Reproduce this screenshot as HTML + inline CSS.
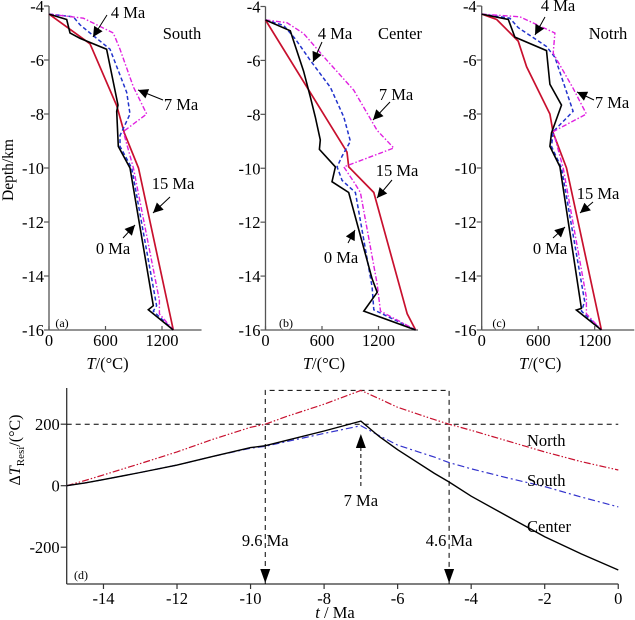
<!DOCTYPE html>
<html><head><meta charset="utf-8"><style>
html,body{margin:0;padding:0;background:#fff;}
svg, svg text{font-family:"Liberation Serif","Times New Roman",serif;}
svg{display:block;}
</style></head><body>
<svg id="c" width="635" height="620" viewBox="0 0 635 620" font-family="Liberation Serif, serif" xmlns="http://www.w3.org/2000/svg"></svg>
<script>
// ---- data: panel profiles [T (°C), depth (km)] ----
const panelNames = ["South","Center","Notrh"];
const panelTags = ["(a)","(b)","(c)"];
const tempTicks = [0,600,1200];
const depthTicks = [-4,-6,-8,-10,-12,-14,-16];
const profA15 = [[0,-4.3],[435,-5.4],[720,-7.7],[800,-8.7],[950,-10],[1320,-16]];
const profA0 = [[0,-4.3],[188,-4.5],[223,-5.0],[330,-5.2],[612,-5.6],[733,-7.67],[719,-7.9],[736,-9.2],[860,-10],[1108,-15.1],[1055,-15.25],[1320,-16]];
const profA4 = [[0,-4.3],[258,-4.4],[330,-4.7],[648,-5.6],[825,-7.2],[860,-8.0],[754,-8.8],[754,-9.2],[878,-10],[1143,-15.1],[1108,-15.3],[1320,-16]];
const profA7 = [[0,-4.3],[365,-4.45],[683,-5.0],[754,-5.6],[896,-7.0],[1037,-8.0],[789,-8.65],[896,-10],[1172,-14.9],[1172,-15.4],[1320,-16]];
const profB15 = [[0,-4.5],[830,-9.2],[866,-9.4],[884,-9.95],[1150,-10.9],[1505,-15.4],[1594,-16]];
const profB0 = [[0,-4.5],[263,-4.9],[291,-5.2],[405,-6.4],[476,-7.35],[529,-8.1],[582,-8.95],[572,-9.3],[742,-9.95],[706,-10.5],[884,-10.9],[1132,-14.1],[1186,-14.6],[1044,-15.3],[1594,-16]];
const profB4 = [[0,-4.5],[192,-4.7],[316,-5.2],[476,-6.0],[689,-7.0],[831,-8.1],[902,-9.0],[813,-9.55],[760,-9.95],[813,-10.45],[955,-10.9],[1132,-14.4],[1150,-15.25],[1594,-16]];
const profB7 = [[0,-4.5],[227,-4.6],[405,-5.0],[653,-6.0],[937,-7.1],[1186,-8.6],[1363,-9.25],[831,-9.95],[937,-10.5],[1008,-10.9],[1186,-14.3],[1203,-14.8],[1221,-15.3],[1594,-16]];
const profC15 = [[0,-4.3],[159,-4.5],[388,-5.3],[477,-6.25],[724,-8.0],[759,-8.7],[900,-10],[1271,-16]];
const profC0 = [[0,-4.3],[282,-4.5],[353,-5.15],[688,-5.65],[724,-6.9],[847,-7.67],[741,-8.7],[724,-9.2],[830,-9.95],[1059,-15.2],[1006,-15.26],[1271,-16]];
const profC4 = [[0,-4.3],[300,-4.45],[388,-4.8],[688,-5.5],[777,-5.9],[971,-7.9],[759,-8.65],[741,-9.2],[847,-10],[1094,-14.95],[1059,-15.3],[1271,-16]];
const profC7 = [[0,-4.3],[406,-4.4],[653,-4.8],[777,-5.0],[759,-5.75],[971,-7.05],[1112,-8.0],[759,-8.65],[865,-10],[1112,-14.8],[1112,-15.4],[1271,-16]];
// ---- data: panel (d) ----
const timeTicks = [-14,-12,-10,-8,-6,-4,-2,0];
const dTTicks = [-200,0,200];
const times = [-15,-14.5,-14,-13,-12,-11,-10,-9.6,-9,-8,-7,-6.5,-6,-5,-4.6,-4,-3,-2,-1,0];
const northVals = [0,17,35,72,110,152,190,200,226,265,310,283,255,215,200,180,145,110,78,51];
const centerVals = [0,9,20,43,67,96,124,130,148,178,210,160,117,40,12,-34,-100,-166,-222,-274];
const southVals = [0,9,20,43,67,96,122,128,144,170,195,163,132,93,75,55,25,-3,-37,-69];
const markTimes = [-9.6,-7,-4.6];

const svg=document.getElementById('c');
const NS="http://www.w3.org/2000/svg";
const FF="Liberation Serif, Times New Roman, serif";
function mk(tag,attrs,parent){const e=document.createElementNS(NS,tag);for(const k in attrs)e.setAttribute(k,attrs[k]);(parent||svg).appendChild(e);return e;}
function txt(x,y,s,size,anchor,parent){const t=mk('text',{x:x,y:y,'font-size':size,'text-anchor':anchor||'middle',fill:'#000','font-family':FF},parent);t.textContent=s;return t;}

const defs=mk('defs',{});
const mkr2=mk('marker',{id:'ah2',viewBox:'0 0 10 10',refX:10,refY:5,markerWidth:12,markerHeight:10,orient:'auto',markerUnits:'userSpaceOnUse'},defs);
mk('path',{d:'M0,0 L10,5 L0,10 z',fill:'#000'},mkr2);

const FS=16.5;
const styles={
 r:{stroke:'#c8102e','stroke-width':1.7,fill:'none'},
 k:{stroke:'#000','stroke-width':1.6,fill:'none'},
 b:{stroke:'#2233cc','stroke-width':1.5,fill:'none','stroke-dasharray':'4,2.5'},
 m:{stroke:'#e020e0','stroke-width':1.4,fill:'none','stroke-dasharray':'5,2,1.5,2'}
};
const panels=[
 {x0:49,top:6,bot:330,prof:[profA15,profA0,profA4,profA7],
  ann:[["4 Ma",128,18,107,15,93,37],["7 Ma",181,110,163,100,138,90],["15 Ma",173,189,170,197,153,213],["0 Ma",113,254,123,238,135,225]],name:[182,39],tag:[62,327]},
 {x0:265.5,top:6.5,bot:330,prof:[profB15,profB0,profB4,profB7],
  ann:[["4 Ma",335,39,322,42,313,62],["7 Ma",396,100,390,102,373,120],["15 Ma",397,176,392,180,377,198],["0 Ma",341,263,348,243,355,230]],name:[400,39],tag:[286,327]},
 {x0:481.7,top:6,bot:330,prof:[profC15,profC0,profC4,profC7],
  ann:[["4 Ma",558,11,545,17,535,35],["7 Ma",612,108,594,100,577,92],["15 Ma",598,199,593,202,580,213],["0 Ma",550,254,553,238,565,227]],name:[608,39],tag:[499,327]}
];
const tScale=56.5/600;
panels.forEach((p,i)=>{
 const g=mk('g',{});
 
 
 const X=t=>p.x0+t*tScale;
 const Y=d=>p.top+(-4-d)/12*(p.bot-p.top);
 const xr=X(1620);
 mk('line',{x1:p.x0,y1:Y(-4),x2:p.x0,y2:Y(-16),stroke:'#555','stroke-width':1.3},g);
 mk('line',{x1:p.x0,y1:Y(-16),x2:xr,y2:Y(-16),stroke:'#555','stroke-width':1.3},g);
 depthTicks.forEach(d=>{mk('line',{x1:p.x0-5,y1:Y(d),x2:p.x0,y2:Y(d),stroke:'#555','stroke-width':1.2},g);
  const t=txt(p.x0-5,Y(d)+6,String(d),FS,'end',g);});
 tempTicks.forEach(v=>{mk('line',{x1:X(v),y1:Y(-16),x2:X(v),y2:Y(-16)-4,stroke:'#555','stroke-width':1.2},g);
  const t=txt(X(v),346,String(v),FS,'middle',g);});
 const xt=mk('text',{x:X(600)+2,y:369,'font-size':FS,'text-anchor':'middle','font-family':FF},g);
 
 xt.innerHTML='<tspan font-style="italic">T</tspan>/(°C)';
 const order=['r','k','b','m'];
 const sname=['profile-15ma','profile-0ma','profile-4ma','profile-7ma'];
 [0,2,3,1].forEach(j=>{
  const pts=p.prof[j].map(q=>X(q[0]).toFixed(1)+','+Y(q[1]).toFixed(1)).join(' ');
  const pl=mk('polyline',Object.assign({points:pts},styles[order[j]]),g);
  
  
 });
 p.ann.forEach(a=>{
  const t=txt(a[1],a[2],a[0],FS,'middle',g);
  
  mk('line',{x1:a[3],y1:a[4],x2:a[5],y2:a[6],stroke:'#000','stroke-width':1,'marker-end':'url(#ah2)'},g);
 });
 const nm=txt(p.name[0],p.name[1],panelNames[i],FS,'middle',g);
 
 const tg=txt(p.tag[0],p.tag[1],panelTags[i],12,'middle',g);
 
});
const yt=mk('text',{x:0,y:0,'font-size':15.5,'text-anchor':'middle','font-family':FF,transform:'translate(13,170) rotate(-90)'});

yt.textContent='Depth/km';

// ---- panel d ----
const gd=mk('g',{});


const TX=t=>66.7+(t+15)*36.77;
const VY=v=>485.7-v*61.5/200;
mk('line',{x1:TX(-15),y1:388,x2:TX(-15),y2:584,stroke:'#333','stroke-width':1.3},gd);
mk('line',{x1:TX(-15),y1:584,x2:TX(0),y2:584,stroke:'#333','stroke-width':1.3},gd);
timeTicks.forEach(t=>{mk('line',{x1:TX(t),y1:584,x2:TX(t),y2:589,stroke:'#333','stroke-width':1.2},gd);
 const l=txt(TX(t),604,String(t),FS,'middle',gd);});
dTTicks.forEach(v=>{mk('line',{x1:TX(-15)-6,y1:VY(v),x2:TX(-15),y2:VY(v),stroke:'#333','stroke-width':1.2},gd);
 const l=txt(TX(-15)-7,VY(v)+6,String(v),FS,'end',gd);});
const h200=mk('line',{x1:TX(-15),y1:VY(200),x2:TX(0),y2:VY(200),stroke:'#000','stroke-width':1,'stroke-dasharray':'5,4'},gd);

const box=mk('polyline',{points:`${TX(markTimes[0])},584 ${TX(markTimes[0])},${VY(310)} ${TX(markTimes[2])},${VY(310)} ${TX(markTimes[2])},584`,fill:'none',stroke:'#000','stroke-width':1,'stroke-dasharray':'5,4'},gd);

function curve(vals,st,name){
 const pts=times.map((t,i)=>TX(t).toFixed(1)+','+VY(vals[i]).toFixed(1)).join(' ');
 const pl=mk('polyline',Object.assign({points:pts},st),gd);
 
}
curve(northVals,{stroke:'#c8102e','stroke-width':1.2,fill:'none','stroke-dasharray':'7,2,1.5,2,1.5,2'},'north-series');
curve(southVals,{stroke:'#3333cc','stroke-width':1.2,fill:'none','stroke-dasharray':'7,3,2,3'},'south-series');
curve(centerVals,{stroke:'#000','stroke-width':1.4,fill:'none'},'center-series');
[[markTimes[0],'9.6 Ma',546],[markTimes[2],'4.6 Ma',546]].forEach(m=>{
 mk('path',{d:`M${TX(m[0])-5},569 L${TX(m[0])+5},569 L${TX(m[0])},583 z`,fill:'#000'},gd);
 const l=txt(TX(m[0]),m[2],m[1],FS,'middle',gd);
});
mk('line',{x1:TX(markTimes[1]),y1:486,x2:TX(markTimes[1]),y2:445,stroke:'#000','stroke-width':1,'stroke-dasharray':'4,3'},gd);
mk('path',{d:`M${TX(markTimes[1])-5},448 L${TX(markTimes[1])+5},448 L${TX(markTimes[1])},434 z`,fill:'#000'},gd);
const l7=txt(TX(markTimes[1]),506,'7 Ma',FS,'middle',gd);
[['North',446],['South',486],['Center',532]].forEach(s=>{const l=txt(527,s[1],s[0],FS,'start',gd);});
const dtag=txt(81,579,'(d)',12,'middle',gd);
const dy=mk('text',{x:0,y:0,'font-size':16,'text-anchor':'middle','font-family':FF,transform:'translate(20,450) rotate(-90)'},gd);

dy.innerHTML='Δ<tspan font-style="italic">T</tspan><tspan font-size="11" dy="4">Resi</tspan><tspan dy="-4">/(°C)</tspan>';
const dx=mk('text',{x:335,y:618,'font-size':FS,'text-anchor':'middle','font-family':FF},gd);

dx.innerHTML='<tspan font-style="italic">t</tspan> / Ma';
</script>
</body></html>
